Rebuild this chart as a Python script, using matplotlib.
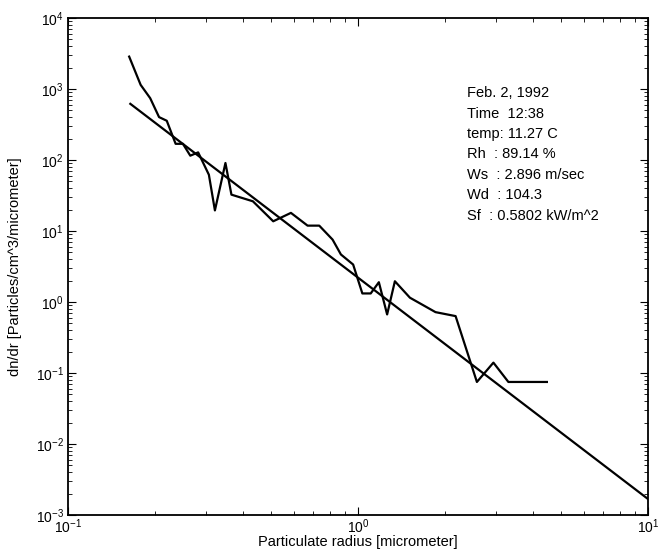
import matplotlib
matplotlib.use("Agg")
import matplotlib.pyplot as plt
from matplotlib.ticker import LogLocator

plt.rcParams["font.family"] = ["Liberation Sans", "DejaVu Sans"]
plt.rcParams["mathtext.default"] = "regular"

# measured size distribution (radius in micrometer, dn/dr)
radius = [0.1625, 0.178, 0.192, 0.206, 0.219, 0.235, 0.249, 0.264, 0.281, 0.306, 0.321,
          0.349, 0.366, 0.434, 0.510, 0.587, 0.670, 0.735, 0.817, 0.873, 0.962, 1.035,
          1.106, 1.18, 1.26, 1.34, 1.51, 1.85, 2.17, 2.57, 2.93, 3.30, 4.48]
dndr = [2858, 1143, 743, 402, 357, 169, 169, 115, 128, 62, 19.5,
        90.7, 32.5, 26.2, 13.7, 18.0, 11.9, 11.9, 7.57, 4.67, 3.37, 1.32,
        1.32, 1.90, 0.668, 1.96, 1.15, 0.72, 0.633, 0.0748, 0.140, 0.0748, 0.0748]

# power-law fit, endpoints
fit_r = [0.164, 10.0]
fit_y = [618, 0.00168]

info = ["Feb. 2, 1992", "Time  12:38", "temp: 11.27 C", "Rh  : 89.14 %",
        "Ws  : 2.896 m/sec", "Wd  : 104.3", "Sf  : 0.5802 kW/m^2"]

fig = plt.figure(figsize=(6.63, 5.5), dpi=100)
ax = fig.add_axes([0.1026, 0.0636, 0.8748, 0.9037])
ax.plot(radius, dndr, color="black", lw=1.6)
ax.plot(fit_r, fit_y, color="black", lw=1.6)
ax.set_xscale("log"); ax.set_yscale("log")
ax.set_xlim(0.1, 10); ax.set_ylim(1e-3, 1e4)
ax.yaxis.set_major_locator(LogLocator(base=10, numticks=10))
ax.yaxis.set_minor_locator(LogLocator(base=10, subs=range(2, 10), numticks=10))
ax.tick_params(which="both", direction="in", top=True, right=True, labelsize=10)
ax.tick_params(axis="x", pad=2)
ax.tick_params(axis="y", pad=3)
ax.tick_params(which="major", length=6)
ax.tick_params(which="minor", length=3)
for s in ax.spines.values():
    s.set_linewidth(1.3)
ax.set_xlabel("Particulate radius [micrometer]", fontsize=10.5, labelpad=-1)
ax.set_ylabel("dn/dr [Particles/cm^3/micrometer]", fontsize=10.5, labelpad=10)

for i, t in enumerate(info):
    ax.text(0.688, 0.849 - i * 0.0412, t, transform=ax.transAxes, fontsize=10.5, va="center")

fig.savefig("out.png", dpi=100)
